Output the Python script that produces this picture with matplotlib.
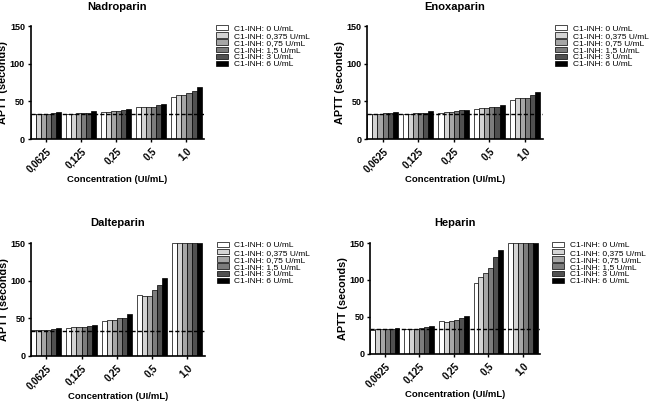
import matplotlib
matplotlib.use("Agg")
import matplotlib.pyplot as plt
import numpy as np

plt.rcParams['font.family'] = ['Liberation Sans', 'DejaVu Sans']

# === Data ===
concentrations = ["0,0625", "0,125", "0,25", "0,5", "1,0"]
series_labels = ["C1-INH: 0 U/mL", "C1-INH: 0,375 U/mL", "C1-INH: 0,75 U/mL",
                 "C1-INH: 1,5 U/mL", "C1-INH: 3 U/mL", "C1-INH: 6 U/mL"]
series_colors = ["#ffffff", "#d4d4d4", "#a6a6a6", "#7c7c7c", "#505050", "#000000"]
baseline = 33

# rows = concentration, cols = C1-INH dose
nadroparin = [[33, 33, 33, 33, 35, 36],
              [33, 33, 34, 35, 35, 37],
              [36, 36, 37, 37, 38, 40],
              [42, 42, 43, 43, 45, 47],
              [56, 58, 58, 61, 64, 69]]
enoxaparin = [[33, 33, 33, 34, 35, 36],
              [33, 33, 34, 34, 35, 37],
              [35, 36, 36, 37, 38, 39],
              [40, 41, 41, 42, 43, 45],
              [52, 54, 54, 55, 58, 62]]
dalteparin = [[34, 34, 34, 35, 36, 37],
              [37, 38, 38, 39, 40, 41],
              [46, 47, 47, 50, 50, 55],
              [81, 80, 80, 87, 94, 104],
              [150, 150, 150, 150, 150, 150]]
heparin = [[32, 33, 33, 33, 34, 35],
           [33, 33, 34, 35, 36, 37],
           [44, 43, 44, 46, 48, 51],
           [96, 104, 109, 116, 131, 140],
           [150, 150, 150, 150, 150, 150]]

panels = [("Nadroparin", nadroparin, [0.047, 0.655, 0.267, 0.280]),
          ("Enoxaparin", enoxaparin, [0.565, 0.655, 0.270, 0.280]),
          ("Dalteparin", dalteparin, [0.048, 0.117, 0.267, 0.280]),
          ("Heparin", heparin, [0.569, 0.122, 0.262, 0.275])]

fig = plt.figure(figsize=(6.5, 4.03), dpi=100)
bar_w = 1 / 7
x = np.arange(len(concentrations))

for title, data, pos in panels:
    ax = fig.add_axes(pos)
    vals = np.array(data)
    for j in range(len(series_labels)):
        ax.bar(x + (j - 2.5) * bar_w, vals[:, j], width=bar_w,
               color=series_colors[j], edgecolor='black', linewidth=0.5,
               label=series_labels[j])
    ax.axhline(baseline, color='black', linestyle='--', linewidth=1, dashes=(3, 1.5))
    ax.set_xlim(-3 * bar_w, 4 + 3.5 * bar_w)
    ax.set_ylim(0, 150)
    ax.set_yticks([0, 50, 100, 150])
    ax.set_xticks(x)
    ax.set_xticklabels(concentrations, rotation=45, ha='right',
                       rotation_mode='anchor', fontweight='bold', fontsize=7)
    for lab in ax.get_yticklabels():
        lab.set_fontweight('bold')
        lab.set_fontsize(6.5)
    ax.tick_params(length=2.5, width=1, pad=1.5)
    ax.tick_params(axis='x', pad=2.5)
    ax.spines['top'].set_visible(False)
    ax.spines['right'].set_visible(False)
    ax.spines['left'].set_linewidth(1.2)
    ax.spines['bottom'].set_linewidth(1.2)
    ax.set_title(title, fontsize=8, fontweight='bold', pad=12)
    ax.set_ylabel("APTT (seconds)", fontsize=7.8, fontweight='bold', labelpad=1)
    ax.set_xlabel("Concentration (UI/mL)", fontsize=6.8, fontweight='bold', labelpad=1)
    ax.legend(loc='upper left', bbox_to_anchor=(1.07, 1.01), frameon=False,
              fontsize=6, handlelength=1.4, handleheight=0.6,
              labelspacing=-0.05, handletextpad=0.7, borderaxespad=0,
              borderpad=0)

plt.savefig("out.png", dpi=100)
